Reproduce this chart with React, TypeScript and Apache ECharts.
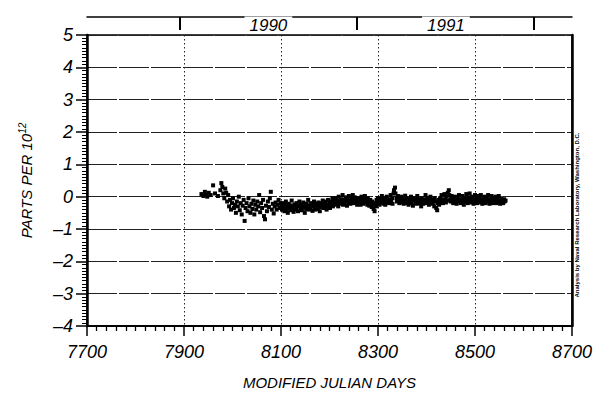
import React, { useEffect, useRef } from "react";
import * as echarts from "echarts";

// Tick labels / axis definitions
const xTicks = [7700, 7900, 8100, 8300, 8500, 8700];
const yTicks = [-4, -3, -2, -1, 0, 1, 2, 3, 4, 5];
// Year boundaries in MJD (offset 40000): 1990-01-01, 1991-01-01, 1992-01-01
const yearBoundaries = [7892, 8257, 8622];
const yearLabelPositions = [8074, 8440];
const yearLabels = ["1990", "1991"];

// [MJD - 40000, parts per 10^12]
const early1990: [number, number][] = [
  [7936, 0.08], [7940, 0.02], [7943, 0.15], [7945, 0.05], [7948, 0.0], [7951, 0.12],
  [7955, 0.05], [7960, 0.35], [7964, 0.1], [7970, 0.02], [7975, 0.2], [7977, 0.42],
  [7979, 0.3], [7981, 0.1], [7983, -0.05], [7985, 0.25], [7987, 0.12],
];

const scatter1990: [number, number][] = [
  [7989, -0.15], [7991, 0.05], [7993, -0.3], [7995, -0.1], [7997, -0.4], [7999, -0.2],
  [8001, -0.05], [8003, -0.35], [8005, -0.25], [8007, -0.5], [8009, -0.15], [8011, -0.3],
  [8013, 0.0], [8015, -0.42], [8017, -0.2], [8019, -0.55], [8021, -0.28], [8023, -0.1],
  [8025, -0.75], [8027, -0.35], [8029, -0.2], [8031, -0.45], [8033, -0.05], [8035, -0.3],
  [8037, -0.5], [8039, -0.22], [8041, -0.38], [8043, -0.12], [8045, -0.55], [8047, -0.25],
  [8049, -0.4], [8051, -0.15], [8053, -0.3], [8055, 0.05], [8057, -0.48], [8059, -0.2],
  [8061, -0.35], [8063, -0.1], [8065, -0.6], [8067, -0.7], [8069, -0.28], [8071, -0.45],
  [8073, -0.15], [8075, -0.32], [8077, -0.05], [8079, 0.15], [8081, -0.4], [8083, -0.22],
  [8085, -0.52], [8087, -0.3], [8089, -0.18], [8091, -0.4], [8093, -0.25], [8095, -0.1],
  [8097, -0.35], [8099, -0.2],
];

const band1990: [number, number][] = [
  [8101, -0.28], [8102, -0.4], [8104, -0.2], [8105, -0.33], [8107, -0.45], [8108, -0.25],
  [8110, -0.15], [8111, -0.38], [8113, -0.3], [8114, -0.5], [8116, -0.22], [8117, -0.35],
  [8119, -0.42], [8120, -0.27], [8122, -0.12], [8123, -0.36], [8125, -0.3], [8126, -0.47],
  [8128, -0.24], [8129, -0.33], [8131, -0.4], [8132, -0.2], [8134, -0.3], [8135, -0.45],
  [8137, -0.28], [8138, -0.15], [8140, -0.36], [8141, -0.25], [8143, -0.42], [8144, -0.3],
  [8146, -0.18], [8147, -0.34], [8149, -0.5], [8150, -0.27], [8152, -0.38], [8153, -0.22],
  [8155, -0.32], [8156, -0.1], [8158, -0.4], [8159, -0.28], [8161, -0.35], [8162, -0.2],
  [8164, -0.3], [8165, -0.44], [8167, -0.25], [8168, -0.15], [8170, -0.33], [8171, -0.4],
  [8173, -0.22], [8174, -0.3], [8176, -0.38], [8177, -0.18], [8179, -0.28], [8180, -0.45],
  [8182, -0.2], [8183, -0.32], [8185, -0.25], [8186, -0.12], [8188, -0.35], [8189, -0.22],
  [8191, -0.3], [8192, -0.15], [8194, -0.4], [8195, -0.25], [8197, -0.1], [8198, -0.3],
  [8200, -0.2], [8201, -0.35], [8203, -0.15], [8204, -0.25], [8206, -0.05], [8207, -0.3],
  [8209, -0.18], [8210, -0.1], [8212, -0.25], [8213, -0.05], [8215, -0.2], [8216, -0.12],
  [8218, -0.3], [8219, 0.0], [8221, -0.15], [8222, -0.22], [8224, -0.08], [8225, -0.18],
  [8227, 0.05], [8228, -0.25], [8230, -0.1], [8231, -0.2], [8233, -0.02], [8234, -0.15],
  [8236, -0.28], [8237, -0.08], [8239, -0.18], [8240, 0.02], [8242, -0.12], [8243, -0.22],
  [8245, -0.05], [8246, -0.15], [8248, 0.05], [8249, -0.2], [8251, -0.1], [8252, -0.02],
  [8254, -0.18], [8255, -0.08], [8257, -0.25], [8258, -0.12],
];

const band1991: [number, number][] = [
  [8260, -0.05], [8261, -0.2], [8263, -0.1], [8264, -0.25], [8266, 0.0], [8267, -0.15],
  [8269, -0.08], [8270, -0.22], [8272, -0.12], [8273, 0.02], [8275, -0.18], [8276, -0.1],
  [8278, -0.25], [8279, -0.05], [8281, -0.15], [8282, -0.28], [8284, -0.1], [8285, -0.2],
  [8287, -0.32], [8288, -0.15], [8290, -0.25], [8291, -0.38], [8293, -0.45], [8294, -0.2],
  [8296, -0.3], [8297, -0.1], [8299, -0.22], [8300, -0.05], [8302, -0.15], [8303, -0.25],
  [8305, -0.08], [8306, -0.18], [8308, 0.02], [8309, -0.12], [8311, -0.22], [8312, -0.05],
  [8314, -0.15], [8315, -0.25], [8317, -0.1], [8318, 0.0], [8320, -0.18], [8321, -0.08],
  [8323, -0.2], [8324, -0.12], [8326, 0.05], [8327, -0.15], [8329, -0.05], [8330, -0.22],
  [8332, 0.1], [8333, 0.2], [8335, 0.28], [8336, 0.1], [8338, -0.05], [8339, -0.15],
  [8341, 0.02], [8342, -0.1], [8344, -0.2], [8345, -0.05], [8347, -0.12], [8348, 0.0],
  [8350, -0.18], [8351, -0.08], [8353, -0.22], [8354, -0.1], [8356, 0.03], [8357, -0.15],
  [8359, -0.05], [8360, -0.2], [8362, -0.12], [8363, -0.25], [8365, -0.08], [8366, -0.15],
  [8368, 0.0], [8369, -0.2], [8371, -0.1], [8372, -0.28], [8374, -0.12], [8375, -0.05],
  [8377, -0.18], [8378, -0.1], [8380, -0.22], [8381, 0.02], [8383, -0.15], [8384, -0.08],
  [8386, -0.2], [8387, -0.12], [8389, -0.3], [8390, -0.05], [8392, -0.15], [8393, -0.22],
  [8395, -0.08], [8396, -0.18], [8398, 0.05], [8399, -0.12], [8401, -0.2], [8402, -0.05],
  [8404, -0.15], [8405, -0.25], [8407, -0.1], [8408, 0.0], [8410, -0.18], [8411, -0.08],
  [8413, -0.22], [8414, -0.12], [8416, -0.3], [8417, -0.05], [8419, -0.15], [8420, -0.35],
  [8422, -0.42], [8423, -0.2], [8425, -0.1], [8426, -0.25], [8428, -0.05], [8429, -0.15],
  [8431, 0.05], [8432, -0.12], [8434, -0.2], [8435, -0.08], [8437, 0.08], [8438, -0.1],
  [8440, -0.18], [8441, 0.0], [8443, -0.12], [8444, 0.12], [8446, 0.2], [8447, 0.05],
  [8449, -0.08], [8450, -0.15], [8452, 0.02], [8453, -0.1], [8455, -0.2], [8456, -0.05],
  [8458, -0.15], [8459, 0.0], [8461, -0.12], [8462, -0.22], [8464, -0.05], [8465, -0.15],
  [8467, 0.05], [8468, -0.1], [8470, -0.2], [8471, -0.08], [8473, -0.15], [8474, 0.02],
  [8476, -0.12], [8477, -0.25], [8479, -0.05], [8480, -0.15], [8482, 0.08], [8483, -0.1],
  [8485, -0.2], [8486, -0.02], [8488, -0.12], [8489, 0.1], [8491, -0.05], [8492, -0.18],
  [8494, 0.0], [8495, -0.1], [8497, -0.22], [8498, -0.05], [8500, 0.05], [8501, -0.15],
  [8503, -0.08], [8504, -0.2], [8506, 0.02], [8507, -0.12], [8509, -0.05], [8510, -0.18],
  [8512, 0.05], [8513, -0.1], [8515, -0.22], [8516, -0.08], [8518, -0.15], [8519, 0.0],
  [8521, -0.12], [8522, -0.2], [8524, -0.05], [8525, -0.15], [8527, 0.05], [8528, -0.1],
  [8530, -0.22], [8531, -0.08], [8533, -0.15], [8534, 0.02], [8536, -0.12], [8537, -0.2],
  [8539, -0.05], [8540, -0.15], [8542, 0.0], [8543, -0.1], [8545, -0.2], [8546, -0.08],
  [8548, -0.15], [8549, 0.02], [8551, -0.12], [8552, -0.22], [8554, -0.05], [8555, -0.15],
  [8557, -0.1], [8558, -0.2], [8560, -0.08], [8561, -0.15], [8563, -0.12],
];

const FONT = "'Liberation Sans', 'DejaVu Sans', sans-serif";
const INK = "#000";

export default function App() {
  const ref = useRef<HTMLDivElement>(null);
  useEffect(() => {
    if (!ref.current) return;
    const chart = echarts.init(ref.current, null, { renderer: "svg" });
    const xMin = xTicks[0];
    const xMax = xTicks[xTicks.length - 1];
    const yMin = yTicks[0];
    const yMax = yTicks[yTicks.length - 1];
    const allData = [...early1990, ...scatter1990, ...band1990, ...band1991];
    const labelStyle = {
      color: INK,
      fontFamily: FONT,
      fontStyle: "italic" as const,
      fontSize: 18,
    };
    chart.setOption({
      animation: false,
      backgroundColor: "#fff",
      grid: {
        left: 87,
        right: 22,
        top: 35,
        bottom: 74,
        show: true,
        borderColor: INK,
        borderWidth: 1.5,
        outerBoundsMode: "none",
      },
      xAxis: [
        {
          type: "value",
          position: "bottom",
          min: xMin,
          max: xMax,
          interval: 200,
          axisLine: { show: true, onZero: false, lineStyle: { color: INK, width: 2 } },
          axisTick: { show: true, length: 10, lineStyle: { color: INK, width: 1.5 } },
          minorTick: { show: true, splitNumber: 10, length: 5, lineStyle: { color: INK, width: 1.3 } },
          axisLabel: { ...labelStyle, margin: 17, formatter: (v: number) => String(v) },
          splitLine: { show: true, lineStyle: { color: "#222", type: [1.5, 2.5], width: 1 } },
          name: "MODIFIED JULIAN DAYS",
          nameLocation: "middle",
          nameGap: 49,
          nameTextStyle: { color: INK, fontFamily: FONT, fontStyle: "italic", fontSize: 15 },
        },
        {
          type: "value",
          position: "top",
          offset: 18,
          min: xMin,
          max: xMax,
          axisLine: { show: true, onZero: false, lineStyle: { color: INK, width: 1.5 } },
          axisTick: {
            show: true,
            inside: true,
            length: 13,
            customValues: yearBoundaries,
            lineStyle: { color: INK, width: 2 },
          },
          axisLabel: {
            show: true,
            customValues: yearLabelPositions,
            formatter: (v: number) => yearLabels[yearLabelPositions.indexOf(v)] ?? "",
            margin: -8,
            verticalAlign: "middle",
            backgroundColor: "#fff",
            padding: [0, 5],
            color: INK,
            fontFamily: FONT,
            fontStyle: "italic",
            fontSize: 17,
          },
          splitLine: { show: false },
        },
      ],
      yAxis: [
        {
          type: "value",
          position: "left",
          min: yMin,
          max: yMax,
          interval: 1,
          axisLine: { show: true, onZero: false, lineStyle: { color: INK, width: 2.5 } },
          axisTick: { show: true, length: 11, lineStyle: { color: INK, width: 1.5 } },
          minorTick: { show: true, splitNumber: 10, length: 5, lineStyle: { color: INK, width: 1 } },
          axisLabel: {
            ...labelStyle,
            margin: 14,
            formatter: (v: number) => (v < 0 ? "\u2013" + Math.abs(v) : String(v)),
          },
          splitLine: { show: true, lineStyle: { color: "#222", type: [30, 2], width: 1.2 } },
          name: "PARTS PER 10{sup|12}",
          nameLocation: "middle",
          nameGap: 52,
          nameRotate: 90,
          nameTextStyle: {
            color: INK,
            fontFamily: FONT,
            fontStyle: "italic",
            fontSize: 15,
            rich: {
              sup: {
                color: INK,
                fontFamily: FONT,
                fontStyle: "italic",
                fontSize: 10,
                padding: [0, 0, 8, 0],
              },
            },
          },
        },
        {
          type: "value",
          position: "right",
          min: yMin,
          max: yMax,
          interval: 1,
          axisLine: { show: true, onZero: false, lineStyle: { color: INK, width: 2.5 } },
          axisTick: { show: false },
          axisLabel: { show: false },
          splitLine: { show: false },
        },
      ],
      graphic: [
        {
          type: "text",
          x: 577,
          y: 215,
          rotation: Math.PI / 2,
          style: {
            text: "Analysis by Naval Research Laboratory, Washington, D.C.",
            fill: INK,
            fontFamily: FONT,
            fontWeight: "bold",
            fontSize: 6,
            align: "center",
            verticalAlign: "middle",
          },
        },
      ],
      series: [
        {
          type: "scatter",
          xAxisIndex: 0,
          yAxisIndex: 0,
          data: allData,
          symbol: "rect",
          symbolSize: 4,
          itemStyle: { color: INK, opacity: 1 },
          silent: true,
        },
      ],
    });
    return () => chart.dispose();
  }, []);
  return (
    <div
      ref={ref}
      style={{ position: "fixed", left: 0, top: 0, width: 594, height: 400 }}
    />
  );
}
